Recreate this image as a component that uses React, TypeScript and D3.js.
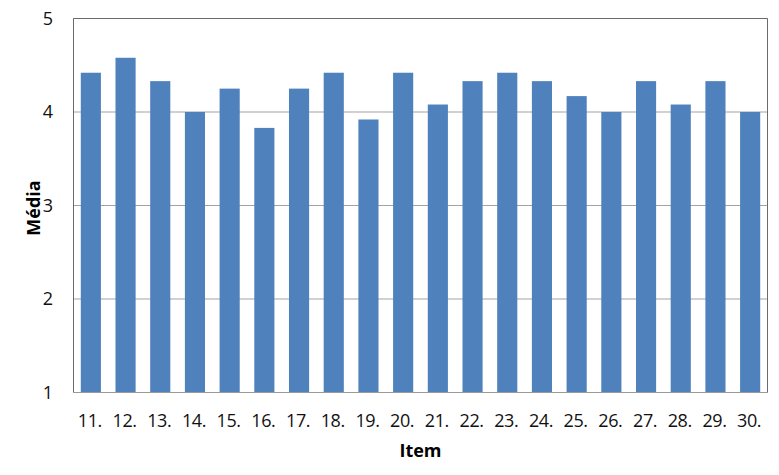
import React from "react";
import * as d3 from "d3";

const categories = ["11.", "12.", "13.", "14.", "15.", "16.", "17.", "18.", "19.", "20.", "21.", "22.", "23.", "24.", "25.", "26.", "27.", "28.", "29.", "30."];
const values = [4.42, 4.58, 4.33, 4.0, 4.25, 3.83, 4.25, 4.42, 3.92, 4.42, 4.08, 4.33, 4.42, 4.33, 4.17, 4.0, 4.33, 4.08, 4.33, 4.0];
const yTicks = [1, 2, 3, 4, 5];
const yTitle = "Média";
const xTitle = "Item";

const W = 779;
const H = 475;
const M = { left: 73.5, right: 11.5, top: 18.5, bottom: 82.5 };
const FONT = "'Open Sans', 'Liberation Sans', sans-serif";

export default function App() {
  const x = d3
    .scaleBand<string>()
    .domain(categories)
    .range([M.left, W - M.right])
    .paddingInner(0.42)
    .paddingOuter(0.21);
  const y = d3.scaleLinear().domain([1, 5]).range([H - M.bottom, M.top]);

  return (
    <svg
      width={W}
      height={H}
      style={{ position: "absolute", left: 0, top: 0, background: "#fff" }}
    >
      {yTicks.map((t) => (
        <line
          key={"g" + t}
          x1={M.left}
          x2={W - M.right}
          y1={y(t)}
          y2={y(t)}
          stroke="#a3a3a3"
          strokeWidth={1}
        />
      ))}
      {categories.map((c, i) => (
        <rect
          key={c}
          x={x(c)}
          y={y(values[i])}
          width={x.bandwidth()}
          height={y(1) - y(values[i])}
          fill="#4f81bd"
        />
      ))}
      <path
        d={`M${M.left},${y(1)}V${M.top}H${W - M.right}V${y(1)}`}
        fill="none"
        stroke="#6b6b6b"
        strokeWidth={1}
      />
      <line
        x1={M.left}
        x2={W - M.right}
        y1={y(1)}
        y2={y(1)}
        stroke="#9a9a9a"
        strokeWidth={1}
      />
      {yTicks.map((t) => (
        <text
          key={"t" + t}
          x={53}
          y={y(t)}
          dy="0.36em"
          textAnchor="end"
          fontFamily={FONT}
          fontSize={18}
          fill="#111"
        >
          {t}
        </text>
      ))}
      {categories.map((c) => (
        <text
          key={"l" + c}
          x={(x(c) as number) + x.bandwidth() / 2 - 1}
          y={427}
          textAnchor="middle"
          fontFamily={FONT}
          fontSize={18}
          letterSpacing={-0.4}
          fill="#111"
        >
          {c}
        </text>
      ))}
      <text
        x={(M.left + W - M.right) / 2}
        y={457}
        textAnchor="middle"
        fontFamily={FONT}
        fontSize={18}
        fontWeight="bold"
        fill="#000"
      >
        {xTitle}
      </text>
      <text
        transform={`translate(40,${208}) rotate(-90)`}
        textAnchor="middle"
        fontFamily={FONT}
        fontSize={18}
        fontWeight="bold"
        fill="#000"
      >
        {yTitle}
      </text>
    </svg>
  );
}
